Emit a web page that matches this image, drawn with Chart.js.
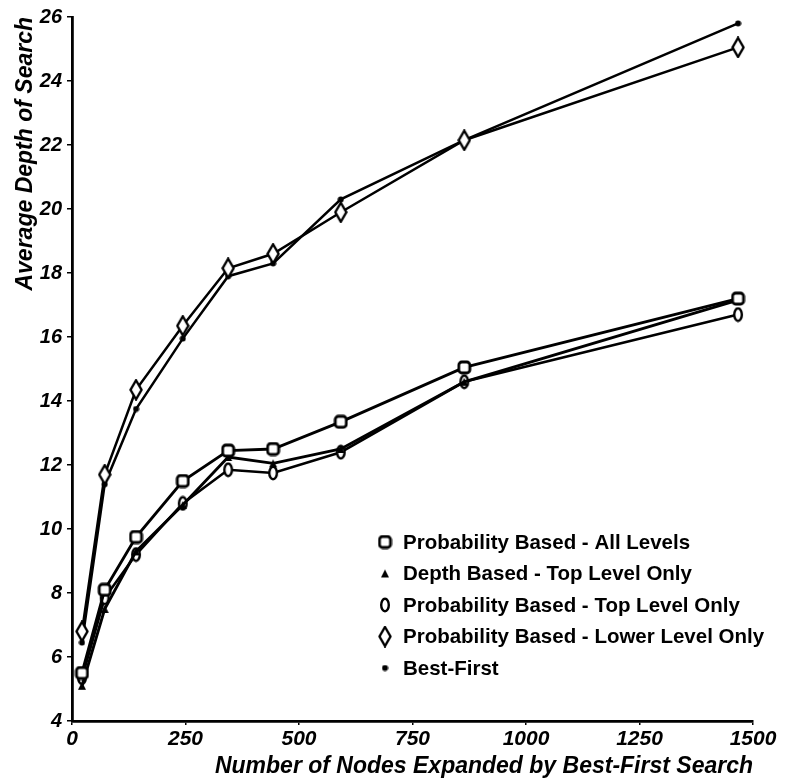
<!DOCTYPE html>
<html lang="en">
<head>
    <meta charset="UTF-8">
    <title>Average Depth of Search</title>
    <script src="https://cdn.jsdelivr.net/npm/chart.js"></script>
    <style>
        body { margin: 0; background: #fff; }
        #wrap { width: 790px; height: 782px; position: relative; }
    </style>
</head>
<body>
    <div id="wrap"><canvas id="depthChart"></canvas></div>

    <script>
        // nodes expanded by best-first search (x positions shared by all series)
        const nodesExpanded = [22, 72, 141, 244, 344, 443, 592, 864, 1467];

        const seriesNames = [
            "Probability Based - All Levels",
            "Depth Based - Top Level Only",
            "Probability Based - Top Level Only",
            "Probability Based - Lower Level Only",
            "Best-First"
        ];

        const probAllLevels   = [5.5, 8.1, 9.75, 11.5, 12.45, 12.5, 13.35, 15.05, 17.2];
        const depthTopLevel   = [5.1, 7.5, 9.3, 10.75, 12.25, 12.05, 12.5, 14.6, 17.15];
        const probTopLevel    = [5.35, 7.85, 9.2, 10.8, 11.85, 11.75, 12.4, 14.6, 16.7];
        const probLowerLevel  = [6.8, 11.7, 14.35, 16.35, 18.15, 18.6, 19.9, 22.15, 25.05];
        const bestFirst       = [6.45, 11.4, 13.75, 15.95, 17.9, 18.3, 20.3, 22.15, 25.8];

        const yTicks = [4, 6, 8, 10, 12, 14, 16, 18, 20, 22, 24, 26];
        const xTicks = [0, 250, 500, 750, 1000, 1250, 1500];

        // little canvases used as point markers
        function makeMarker(kind) {
            const c = document.createElement('canvas');
            const sizes = { square: [15, 15], triangle: [10, 10], ellipse: [12, 16], diamond: [14, 22], dot: [7, 7] };
            c.width = sizes[kind][0];
            c.height = sizes[kind][1];
            const g = c.getContext('2d');
            g.strokeStyle = '#000';
            g.fillStyle = '#fff';
            if (kind === 'square') {
                g.lineWidth = 2.8;
                g.beginPath();
                g.roundRect(2, 2, 11, 11, 3);
                g.fill(); g.stroke();
            } else if (kind === 'triangle') {
                g.fillStyle = '#000';
                g.beginPath();
                g.moveTo(5, 1); g.lineTo(9, 9); g.lineTo(1, 9);
                g.closePath(); g.fill();
            } else if (kind === 'ellipse') {
                g.lineWidth = 2.4;
                g.beginPath();
                g.ellipse(6, 8, 3.8, 6.2, 0, 0, 2 * Math.PI);
                g.fill(); g.stroke();
            } else if (kind === 'diamond') {
                g.lineWidth = 2.4;
                g.beginPath();
                g.moveTo(7, 1.5); g.lineTo(12.5, 11); g.lineTo(7, 20.5); g.lineTo(1.5, 11);
                g.closePath(); g.fill(); g.stroke();
            } else {
                g.fillStyle = '#000';
                g.beginPath();
                g.arc(3.5, 3.5, 3, 0, 2 * Math.PI);
                g.fill();
            }
            return c;
        }

        const markers = ['square', 'triangle', 'ellipse', 'diamond', 'dot'].map(makeMarker);
        const seriesValues = [probAllLevels, depthTopLevel, probTopLevel, probLowerLevel, bestFirst];
        const lineWidths = [2.9, 2.9, 2.6, 2.5, 2.5];

        const datasets = seriesValues.map((vals, i) => ({
            label: seriesNames[i],
            data: vals.map((v, j) => ({ x: nodesExpanded[j], y: v })),
            borderColor: '#000',
            borderWidth: lineWidths[i],
            pointStyle: markers[i],
            tension: 0
        }));

        // legend drawn inside the plot, lower right
        const insideLegend = {
            id: 'insideLegend',
            afterDraw(chart) {
                const ctx = chart.ctx;
                ctx.save();
                ctx.fillStyle = '#000';
                ctx.font = 'bold 20.5px "Liberation Sans", Arial, sans-serif';
                ctx.textBaseline = 'middle';
                seriesNames.forEach((name, i) => {
                    const y = 542 + i * 31.5;
                    const m = markers[i];
                    ctx.drawImage(m, 385 - m.width / 2, y - m.height / 2);
                    ctx.fillText(name, 403, y + 1);
                });
                ctx.restore();
            }
        };

        const fam = '"Liberation Sans", Arial, sans-serif';
        const xTickFont = { family: fam, size: 21, weight: 'bold', style: 'italic' };
        const yTickFont = { family: fam, size: 20, weight: 'bold', style: 'italic' };
        const titleFont = { family: fam, size: 23, weight: 'bold', style: 'italic' };

        new Chart(document.getElementById('depthChart'), {
            type: 'line',
            data: { datasets: datasets },
            options: {
                responsive: true,
                maintainAspectRatio: false,
                animation: false,
                layout: { padding: { top: 16, right: 37, left: 0, bottom: 0 } },
                plugins: {
                    legend: { display: false },
                    tooltip: { enabled: false }
                },
                scales: {
                    x: {
                        type: 'linear',
                        min: 0,
                        max: 1500,
                        afterBuildTicks: scale => { scale.ticks = xTicks.map(v => ({ value: v })); },
                        afterFit: scale => { scale.height = 61; },
                        border: { color: '#000', width: 2.8 },
                        grid: { drawOnChartArea: false, color: '#000', tickLength: 4, lineWidth: 1.5 },
                        ticks: { color: '#000', font: xTickFont, padding: 2, maxRotation: 0, callback: v => String(v) },
                        title: {
                            display: true,
                            text: 'Number of Nodes Expanded by Best-First Search',
                            align: 'end',
                            color: '#000',
                            font: titleFont,
                            padding: { top: 0, bottom: 2 }
                        }
                    },
                    y: {
                        min: 4,
                        max: 26,
                        afterBuildTicks: scale => { scale.ticks = yTicks.map(v => ({ value: v })); },
                        afterFit: scale => { scale.width = 72; },
                        border: { color: '#000', width: 2.8 },
                        grid: { drawOnChartArea: false, color: '#000', tickLength: 5, lineWidth: 1.5 },
                        ticks: { color: '#000', font: yTickFont, padding: 5, callback: v => String(v) },
                        title: {
                            display: true,
                            text: 'Average Depth of Search',
                            align: 'end',
                            color: '#000',
                            font: titleFont,
                            padding: { top: 12, bottom: 0 }
                        }
                    }
                }
            },
            plugins: [insideLegend]
        });
    </script>
</body>
</html>
